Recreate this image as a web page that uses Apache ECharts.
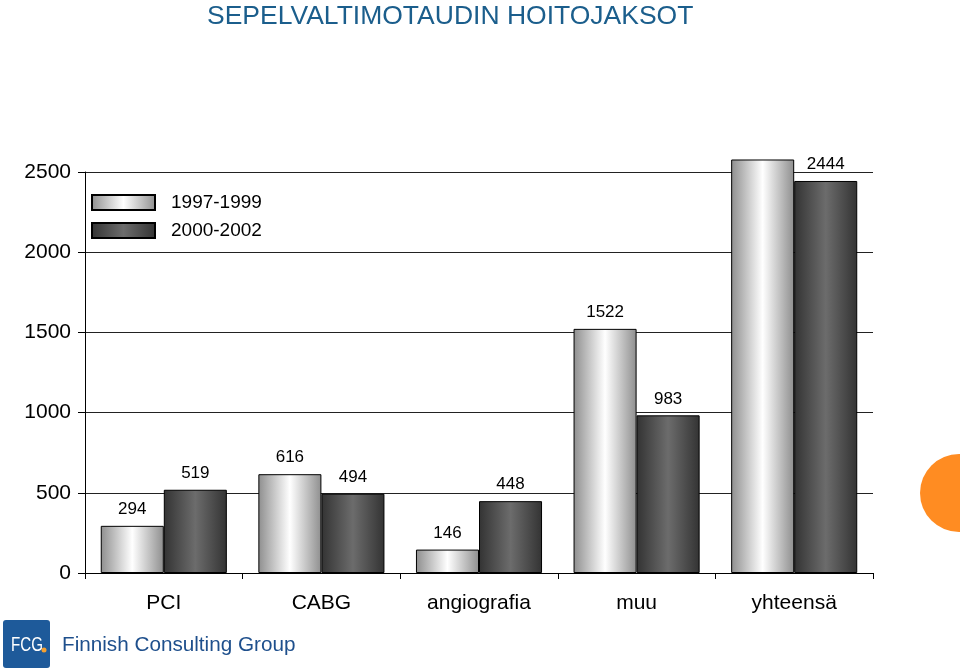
<!DOCTYPE html>
<html><head><meta charset="utf-8">
<script src="https://cdn.jsdelivr.net/npm/echarts@6/dist/echarts.min.js"></script>
<style>html,body{margin:0;padding:0;background:#fff}#c{width:960px;height:671px}</style>
</head><body><div id="c"></div>
<script>
const categories = ['PCI', 'CABG', 'angiografia', 'muu', 'yhteensä'];
const seriesNames = ['1997-1999', '2000-2002'];
const values1997 = [294, 616, 146, 1522, 2578];
const values2000 = [519, 494, 448, 983, 2444];
const hiddenLabels1997 = [false, false, false, false, true];

const lightFill = {type:'linear',x:0,y:0,x2:1,y2:0,colorStops:[
  {offset:0,color:'#8e8e8e'},{offset:0.5,color:'#ffffff'},{offset:1,color:'#8e8e8e'}]};
const darkFill = {type:'linear',x:0,y:0,x2:1,y2:0,colorStops:[
  {offset:0,color:'#333333'},{offset:0.5,color:'#6c6c6c'},{offset:1,color:'#333333'}]};

const labelStyle = {show:true,position:'top',distance:8,fontSize:17,color:'#000',fontFamily:'Liberation Sans'};

const chart = echarts.init(document.getElementById('c'));
chart.setOption({
  animation:false,
  textStyle:{fontFamily:'Liberation Sans'},
  title:{text:'SEPELVALTIMOTAUDIN HOITOJAKSOT',left:202,top:-2,
    textStyle:{fontSize:26.5,fontWeight:'normal',color:'#1b5e8c',fontFamily:'Liberation Sans'}},
  legend:{orient:'vertical',left:86,top:188,itemWidth:63,itemHeight:15,itemGap:9,
    icon:'rect',textStyle:{fontSize:19,color:'#000',padding:[0,0,0,11]},data:seriesNames},
  grid:{left:85,right:87,top:172,bottom:98,containLabel:false},
  xAxis:{type:'category',data:categories,
    axisLine:{lineStyle:{color:'#000',width:1}},
    axisTick:{show:true,length:6,lineStyle:{color:'#000'}},
    axisLabel:{fontSize:21,color:'#000',margin:20}},
  yAxis:{type:'value',min:0,max:2500,interval:500,
    axisLine:{show:true,lineStyle:{color:'#000'}},
    axisTick:{show:true,length:7,lineStyle:{color:'#000'}},
    axisLabel:{fontSize:21,color:'#000',margin:14,formatter:v=>String(v)},
    splitLine:{show:true,lineStyle:{color:'#222',width:1}}},
  series:[
    {name:seriesNames[0],type:'bar',clip:false,barGap:'0%',barCategoryGap:'20%',
     itemStyle:{color:lightFill,borderColor:'#000',borderWidth:1},
     data:values1997.map((v,i)=>({value:v,label:Object.assign({},labelStyle,{show:!hiddenLabels1997[i]})})),
     label:labelStyle},
    {name:seriesNames[1],type:'bar',clip:false,barGap:'0%',barCategoryGap:'20%',
     itemStyle:{color:darkFill,borderColor:'#000',borderWidth:1},
     data:values2000,label:labelStyle}
  ],
  graphic:[
    {type:'circle',shape:{cx:959,cy:493,r:39},style:{fill:'#ff8c22'}},
    {type:'rect',shape:{x:3,y:620,width:47,height:48,r:3},style:{fill:'#1e5a9a'}},
    {type:'text',x:11,y:645,scaleX:0.72,style:{x:0,y:0,text:'FCG',fill:'#fff',fontSize:21,fontFamily:'Liberation Sans',verticalAlign:'middle'}},
    {type:'circle',shape:{cx:44,cy:650,r:2.5},style:{fill:'#f5a030'}},
    {type:'text',style:{x:62,y:645,text:'Finnish Consulting Group',fill:'#1e4f8c',fontSize:20.7,fontFamily:'Liberation Sans',verticalAlign:'middle'}}
  ]
});
</script></body></html>
